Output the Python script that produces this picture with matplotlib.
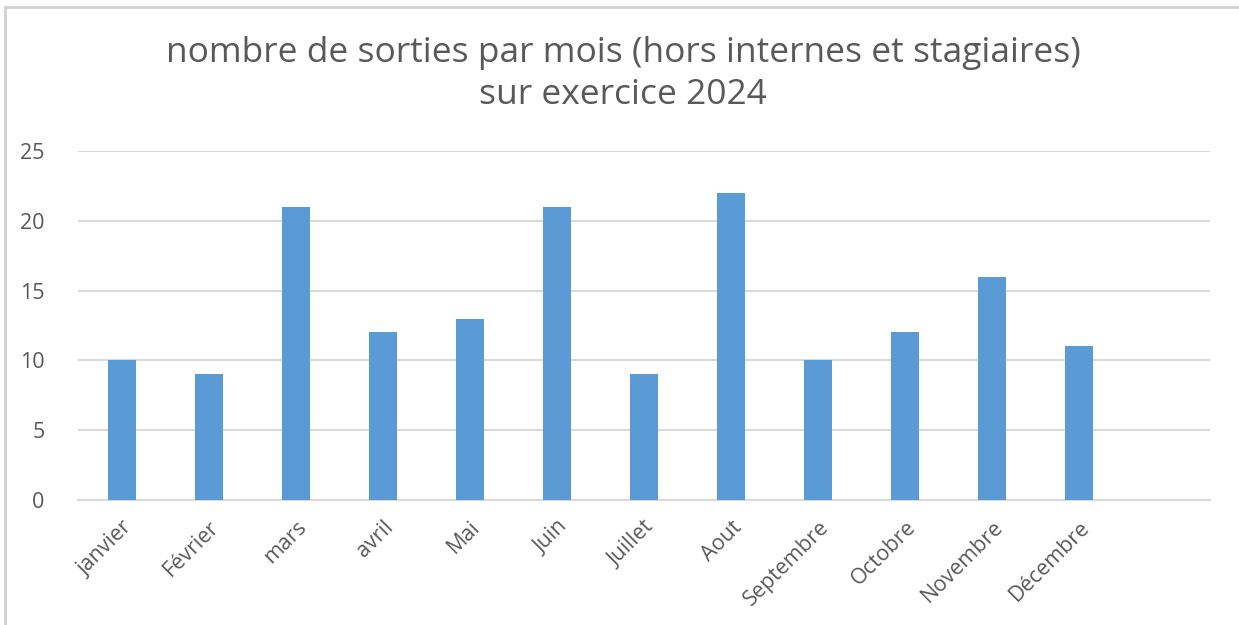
import matplotlib.pyplot as plt
from matplotlib.patches import Rectangle

months = ["janvier", "Février", "mars", "avril", "Mai", "Juin", "Juillet",
          "Aout", "Septembre", "Octobre", "Novembre", "Décembre"]
sorties = [10, 9, 21, 12, 13, 21, 9, 22, 10, 12, 16, 11]
y_ticks = [0, 5, 10, 15, 20, 25]

plt.rcParams['font.family'] = ['Open Sans', 'DejaVu Sans']
text_color = "#595959"
grid_color = "#d9d9d9"

fig = plt.figure(figsize=(12.39, 6.25), dpi=100)
ax = fig.add_axes([0.063, 0.2, 0.9136, 0.5584])

x = list(range(len(months)))
ax.bar(x, sorties, width=0.32, color="#5B9BD5", zorder=3)

# excel leaves one empty category slot at the right
ax.set_xlim(-0.5, len(months) + 0.5)
ax.set_ylim(0, 25)
ax.set_yticks(y_ticks)
ax.set_xticks(x)
ax.set_xticklabels(months, rotation=45, ha="right", rotation_mode="anchor",
                   fontsize=15.5, color=text_color)
ax.tick_params(axis="x", length=0, pad=12)
ax.tick_params(axis="y", length=0, pad=24, labelsize=15.5, labelcolor=text_color)

ax.grid(axis="y", color=grid_color, linewidth=1.5, zorder=0)
for s in ["top", "right", "left"]:
    ax.spines[s].set_visible(False)
ax.spines["bottom"].set_color(grid_color)
ax.spines["bottom"].set_linewidth(1.5)

fig.text(0.503, 0.881, "nombre de sorties par mois (hors internes et stagiaires)\nsur exercice 2024",
         ha="center", va="center", fontsize=25.5, color=text_color, linespacing=1.3)

# chart frame
fig.patches.append(Rectangle((5 / 1239, -0.1), 1.2, 1 - 7 / 625 + 0.1,
                             transform=fig.transFigure, fill=False,
                             edgecolor="#d0d0d0", linewidth=2))

plt.savefig("out.png", dpi=100)
